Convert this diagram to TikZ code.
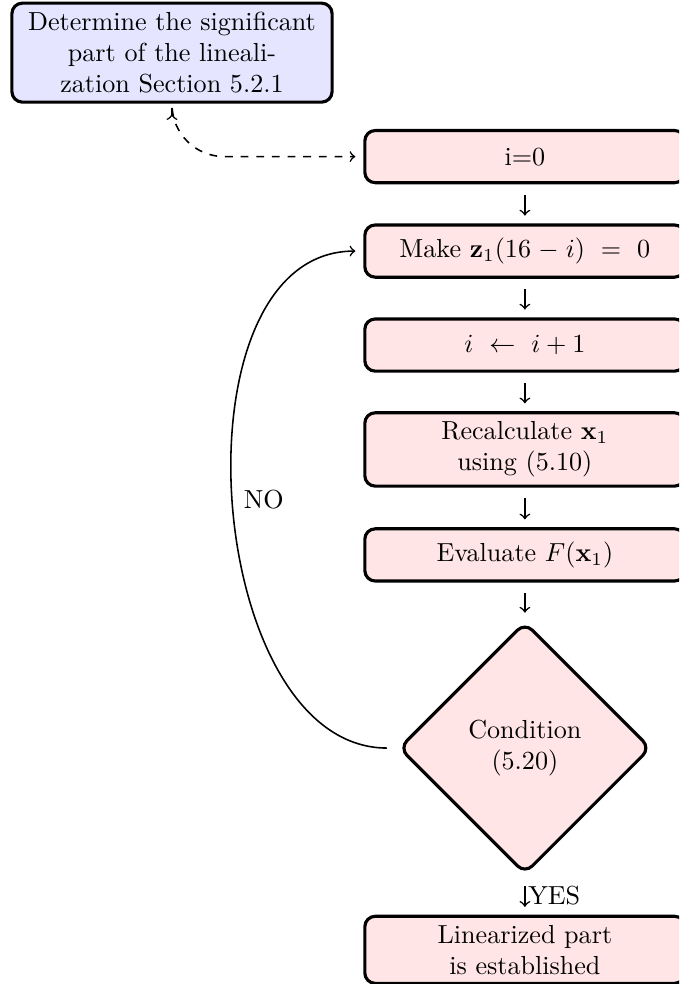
\documentclass[tikz,border=0pt]{standalone}
\usetikzlibrary{shapes.geometric}
\begin{document}
\begin{tikzpicture}[x=1pt,y=1pt,
  box/.style={draw, very thick, rounded corners=4pt, fill=red!10, text width=116pt, align=center, inner sep=0.333em, minimum height=20pt},
  bluebox/.style={box, fill=blue!10},
  cond/.style={draw, very thick, diamond, aspect=1, rounded corners=4pt, fill=red!10, align=center, minimum width=96.5pt, minimum height=96.5pt, inner sep=0pt},
  flow/.style={semithick, ->, shorten <=4pt, shorten >=3pt}]
\useasboundingbox (0,0) rectangle (260.2,-377);
\clip (0,0) rectangle (260.2,-377);
\node[bluebox, anchor=north] (det) at (65.9,-0.6) {Determine the significant\\ part of the lineali-\\zation Section 5.2.1};
\node[box] (i0) at (201.1,-60.0) {i=0};
\node[box] (make) at (201.1,-96.2) {Make $\mathbf{z}_1(16-i)\kern3.33pt\mskip5mu{=}\mskip5mu\kern3.33pt0$};
\node[box] (inc) at (201.1,-132.2) {$i\kern3.33pt\mskip5mu{\leftarrow}\mskip5mu\kern3.33pt i\mskip4mu{+}\mskip4mu1$};
\node[box] (recalc) at (201.1,-172.2) {Recalculate $\mathbf{x}_1$\\ using (5.10)};
\node[box] (eval) at (201.1,-212.6) {Evaluate $F(\mathbf{x}_1)$};
\node[cond] (cnd) at (201.1,-286.6) {Condition\\ (5.20)};
\node[box] (lin) at (201.1,-363.9) {Linearized part\\ is established};
\draw[flow, <->, dashed, rounded corners=20pt] (det.south) |- (i0.west);
\draw[flow] (i0) -- (make);
\draw[flow] (make) -- (inc);
\draw[flow] (inc) -- (recalc);
\draw[flow] (recalc) -- (eval);
\draw[flow] (eval) -- (cnd);
\draw[flow] (cnd) -- node[right, inner sep=1pt] {YES} (lin);
\draw[flow] (cnd.west) to[out=180, in=180] node[pos=0.5, right] {NO} (make.west);
\end{tikzpicture}
\end{document}
